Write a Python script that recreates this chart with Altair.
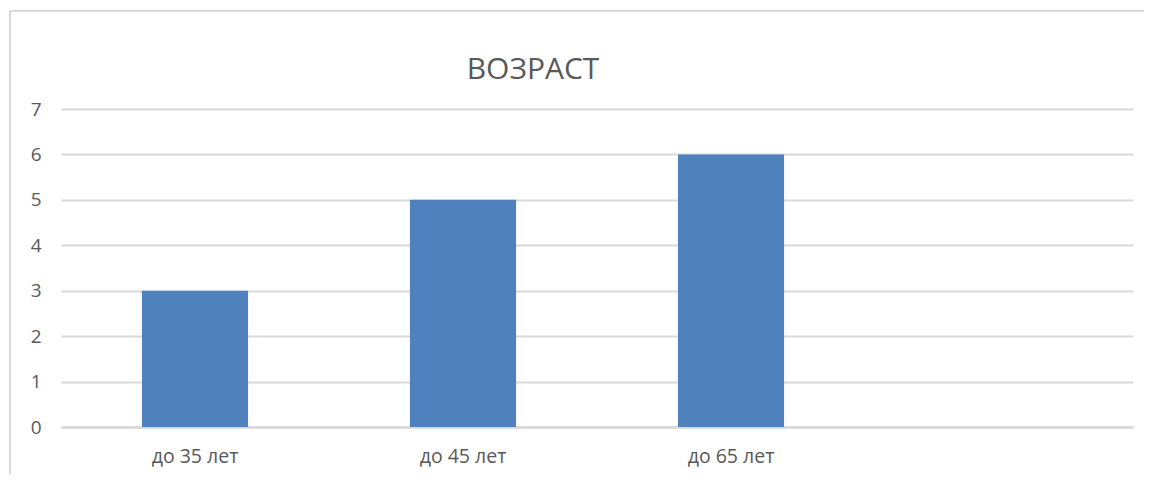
import altair as alt
import pandas as pd

categories = ["до 35 лет", "до 45 лет", "до 65 лет"]
values = [3, 5, 6]
domain = categories + [" "]
title_text = "ВОЗРАСТ"

df = pd.DataFrame({"cat": categories, "val": values})

FONT = "Open Sans"
GRAY = "#595959"
GRID = "#d9d9d9"

bars = alt.Chart(df).mark_bar(color="#4f81bd").encode(
    x=alt.X("cat:N", sort=domain,
            scale=alt.Scale(domain=domain, paddingInner=0.604, paddingOuter=0.302),
            axis=alt.Axis(title=None, labelAngle=0, labelFont=FONT, labelFontSize=19.5,
                          labelColor=GRAY, ticks=False, domainColor=GRID, domainWidth=2.5,
                          labelPadding=20, grid=False)),
    y=alt.Y("val:Q", scale=alt.Scale(domain=[0, 7], nice=False),
            axis=alt.Axis(title=None, values=[0, 1, 2, 3, 4, 5, 6, 7], labelFont=FONT,
                          labelFontSize=19, labelColor=GRAY, ticks=False, domain=False,
                          gridColor=GRID, gridWidth=1.8, labelPadding=20)),
)

title = alt.Chart(pd.DataFrame({"t": [title_text]})).mark_text(
    font=FONT, fontSize=30, color=GRAY, align="center", baseline="middle"
).encode(text="t:N", x=alt.value(472), y=alt.value(-39))

border_left = alt.Chart(df).mark_rule(color=GRID, strokeWidth=2).encode(
    x=alt.value(-51), y=alt.value(-98), y2=alt.value(400)
)
border_top = alt.Chart(df).mark_rule(color=GRID, strokeWidth=2).encode(
    x=alt.value(-51), x2=alt.value(1120), y=alt.value(-98)
)

chart = alt.layer(border_left, border_top, bars, title).properties(
    width=1072,
    height=318,
    autosize=alt.AutoSizeParams(type="none"),
    padding={"left": 53, "top": 101, "right": 11, "bottom": 47},
).configure_view(stroke=None)

chart.save("out.html", embed_options={"renderer": "svg", "actions": False})
